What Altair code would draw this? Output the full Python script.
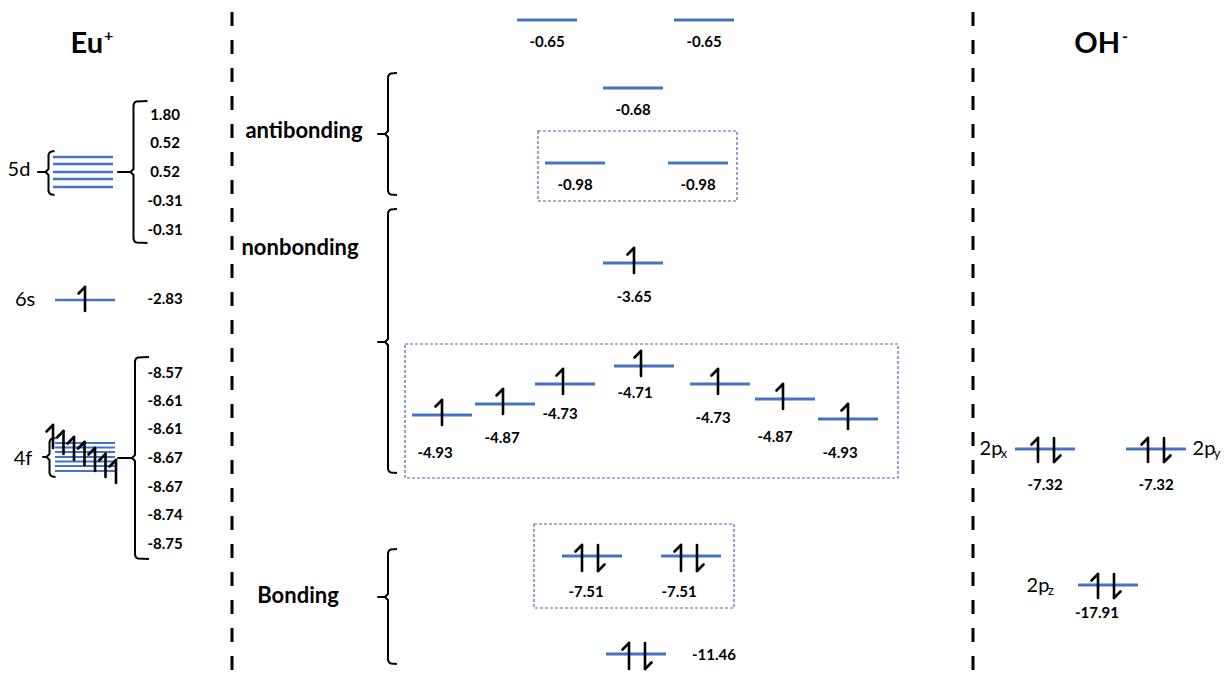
import altair as alt
import pandas as pd

# ---------------- data ----------------
# Eu+ 5d
eu5d_values = ["1.80", "0.52", "0.52", "-0.31", "-0.31"]
eu5d_label_y = [115, 143, 172, 201, 230]
eu5d_level_y = [157, 164, 172, 179, 187]
# Eu+ 6s
eu6s_value = "-2.83"
eu6s_level_y = 300
# Eu+ 4f
eu4f_values = ["-8.57", "-8.61", "-8.61", "-8.67", "-8.67", "-8.74", "-8.75"]
eu4f_label_y = [373, 401, 429, 458, 487, 515, 544]
eu4f_level_y = [443, 447.5, 452, 457, 461.5, 466, 471]
eu4f_arrow_x = [53, 63.5, 74, 84.5, 95, 105.5, 116]
eu4f_arrow_top = [425, 431, 437, 442, 448, 454, 460]

# molecular orbitals (middle)
mo_values = ["-0.65", "-0.65", "-0.68", "-0.98", "-0.98", "-3.65",
             "-4.93", "-4.87", "-4.73", "-4.71", "-4.73", "-4.87", "-4.93",
             "-7.51", "-7.51", "-11.46"]
mo_x1 = [517, 674, 603, 545, 668, 603, 412, 475, 535, 614, 690, 755, 818, 562, 661, 606]
mo_y = [20, 20, 88, 163, 163, 263, 415, 404, 384, 366, 384, 399, 419, 556, 556, 654]
mo_spin = ["", "", "", "", "", "up", "up", "up", "up", "up", "up", "up", "up",
           "pair", "pair", "pair"]
mo_arrow_x = [0, 0, 0, 0, 0, 634, 442, 503, 563, 641, 718, 783, 848, 590, 689, 637]
mo_label_x = [547, 704, 633, 575, 698, 634, 435, 502, 560, 635, 713, 775, 840, 586, 679, 714]
mo_label_y = [42, 42, 110, 185, 185, 297, 453, 438, 414, 393, 418, 437, 453, 592, 592, 655]

# OH- orbitals
oh_values = ["-7.32", "-7.32", "-17.91"]
oh_x1 = [1015, 1126, 1078]
oh_y = [449, 449, 585]
oh_arrow_x = [1046, 1156, 1106]
oh_label_x = [1045, 1156, 1097]
oh_label_y = [485, 485, 613]
oh_names = ["2p", "2p", "2p"]
oh_subs = ["x", "y", "z"]
oh_name_x = [991, 1204, 1038]
oh_name_y = [449, 449, 586]

# section labels / braces
section_names = ["antibonding", "nonbonding", "Bonding"]
section_x = [304, 300, 298]
section_y = [131, 248, 596]

brace_x = [48.5, 133.5, 49.5, 135, 388, 388, 388]
brace_top = [151, 101, 438, 357, 73, 209, 549]
brace_bot = [195, 243, 477, 559, 195, 473, 664]
brace_mid = [172, 172, 457, 458, 134, 342, 597]
brace_hook = [6, 14, 6, 14, 9, 9, 9]
brace_tick = [38, 118, 43, 118, 378, 378, 378]

box_x1 = [538, 405, 534]
box_x2 = [737, 898, 734]
box_y1 = [131, 344, 524]
box_y2 = [201, 478, 608]

divider_x = [232, 973]

BLUE = "#4472C4"
FONT = "Lato"
LW = 60

# ---------------- tables ----------------
levels = []
for y in eu5d_level_y:
    levels.append(dict(x=53, x2=113, y=y, w=2.5))
levels.append(dict(x=55, x2=115, y=eu6s_level_y, w=2.5))
for y in eu4f_level_y:
    levels.append(dict(x=55, x2=115, y=y, w=2.2))
for x1, y in zip(mo_x1, mo_y):
    levels.append(dict(x=x1, x2=x1 + LW, y=y, w=3))
for x1, y in zip(oh_x1, oh_y):
    levels.append(dict(x=x1, x2=x1 + LW, y=y, w=3))
levels_df = pd.DataFrame(levels)

segs = []


def up(x, t, b):
    segs.append(dict(x=x, y=t, x2=x, y2=b))
    segs.append(dict(x=x, y=t, x2=x - 6.5, y2=t + 6.5))


def down(x, t, b):
    segs.append(dict(x=x, y=t, x2=x, y2=b))
    segs.append(dict(x=x, y=b, x2=x + 6.5, y2=b - 6.5))


up(85, eu6s_level_y - 13, eu6s_level_y + 11)
for ax, at in zip(eu4f_arrow_x, eu4f_arrow_top):
    up(ax, at, at + 23)
for s, ax, y in zip(mo_spin, mo_arrow_x, mo_y):
    if s == "up":
        up(ax, y - 15, y + 10)
    elif s == "pair":
        up(ax - 8, y - 11, y + 15)
        down(ax + 8, y - 11, y + 15)
for ax, y in zip(oh_arrow_x, oh_y):
    up(ax - 8, y - 11, y + 13)
    down(ax + 8, y - 11, y + 13)
segs_df = pd.DataFrame(segs)

bpts = []
for i, (xs, t, b, m, h, tk) in enumerate(zip(brace_x, brace_top, brace_bot, brace_mid, brace_hook, brace_tick)):
    pts = [(xs + h, t), (xs + 3, t + 0.4), (xs + 1, t + 1.6), (xs, t + 4),
           (xs, m - 3), (xs - 3, m), (tk, m), (xs - 3, m), (xs, m + 3),
           (xs, b - 4), (xs + 1, b - 1.6), (xs + 3, b - 0.4), (xs + h, b)]
    for j, (px, py) in enumerate(pts):
        bpts.append(dict(b=i, o=j, x=px, y=py))
braces_df = pd.DataFrame(bpts)

boxes_df = pd.DataFrame(dict(x=box_x1, x2=box_x2, y=box_y1, y2=box_y2))
div_df = pd.DataFrame(dict(x=divider_x, y=[12, 12], y2=[680, 680]))

vals = []
for v, y in zip(eu5d_values, eu5d_label_y):
    vals.append(dict(x=165, y=y, t=v))
vals.append(dict(x=165, y=299, t=eu6s_value))
for v, y in zip(eu4f_values, eu4f_label_y):
    vals.append(dict(x=165, y=y, t=v))
for v, x, y in zip(mo_values, mo_label_x, mo_label_y):
    vals.append(dict(x=x, y=y, t=v))
for v, x, y in zip(oh_values, oh_label_x, oh_label_y):
    vals.append(dict(x=x, y=y, t=v))
vals_df = pd.DataFrame(vals)

sec_df = pd.DataFrame(dict(x=section_x, y=section_y, t=section_names))
orb_df = pd.DataFrame(dict(x=[19, 25, 23] + oh_name_x, y=[170, 300, 459] + oh_name_y,
                           t=["5d", "6s", "4f"] + oh_names))
sub_df = pd.DataFrame(dict(x=[o + 13 for o in oh_name_x], y=[y + 5 for y in oh_name_y], t=oh_subs))
title_df = pd.DataFrame(dict(x=[103, 1120], y=[53, 53], t=["Eu", "OH"]))
sup_df = pd.DataFrame(dict(x=[104, 1122], y=[36, 37], t=["+", "-"]))

# ---------------- chart ----------------
XS = alt.Scale(domain=[8, 1223], nice=False, zero=False)
YS = alt.Scale(domain=[8, 672], nice=False, zero=False, reverse=True)


def X(f="x"):
    return alt.X(f"{f}:Q", scale=XS, axis=None)


def Y(f="y"):
    return alt.Y(f"{f}:Q", scale=YS, axis=None)


dividers = alt.Chart(div_df).mark_rule(color="black", strokeWidth=3, strokeDash=[14, 14]).encode(
    x=X(), y=Y(), y2="y2:Q")

boxes = alt.Chart(boxes_df).mark_rect(filled=False, stroke="#4A68A8", strokeWidth=1.2,
                                      strokeDash=[3, 2]).encode(x=X(), x2="x2:Q", y=Y(), y2="y2:Q")

lvl = alt.Chart(levels_df).mark_rule(color=BLUE).encode(
    x=X(), x2="x2:Q", y=Y(), strokeWidth=alt.StrokeWidth("w:Q", scale=None))

arrows = alt.Chart(segs_df).mark_rule(color="black", strokeWidth=2.6, strokeCap="round").encode(
    x=X(), y=Y(), x2="x2:Q", y2="y2:Q")

braces = alt.Chart(braces_df).mark_line(color="black", strokeWidth=2, strokeJoin="round").encode(
    x=X(), y=Y(), detail="b:N", order="o:Q")

vtext = alt.Chart(vals_df).mark_text(font=FONT, fontWeight="bold", fontSize=15, color="black",
                                     align="center", baseline="middle").encode(x=X(), y=Y(), text="t:N")
stext = alt.Chart(sec_df).mark_text(font=FONT, fontWeight="bold", fontSize=22, color="black",
                                    align="center", baseline="middle").encode(x=X(), y=Y(), text="t:N")
otext = alt.Chart(orb_df).mark_text(font=FONT, fontSize=20, color="black",
                                    align="center", baseline="middle").encode(x=X(), y=Y(), text="t:N")
subtext = alt.Chart(sub_df).mark_text(font=FONT, fontSize=13, color="black",
                                      align="center", baseline="middle").encode(x=X(), y=Y(), text="t:N")
ttext = alt.Chart(title_df).mark_text(font=FONT, fontWeight="bold", fontSize=29, color="black",
                                      align="right", baseline="alphabetic").encode(x=X(), y=Y(), text="t:N")
suptext = alt.Chart(sup_df).mark_text(font=FONT, fontWeight="bold", fontSize=16, color="black",
                                      align="left", baseline="middle").encode(x=X(), y=Y(), text="t:N")

chart = alt.layer(dividers, boxes, lvl, arrows, braces, vtext, stext, otext, subtext, ttext, suptext).properties(
    width=1215, height=664, padding=0, autosize=alt.AutoSizeParams(type="none")
).configure_view(stroke=None)

chart.save("out.html", embed_options={"renderer": "svg", "actions": False})
